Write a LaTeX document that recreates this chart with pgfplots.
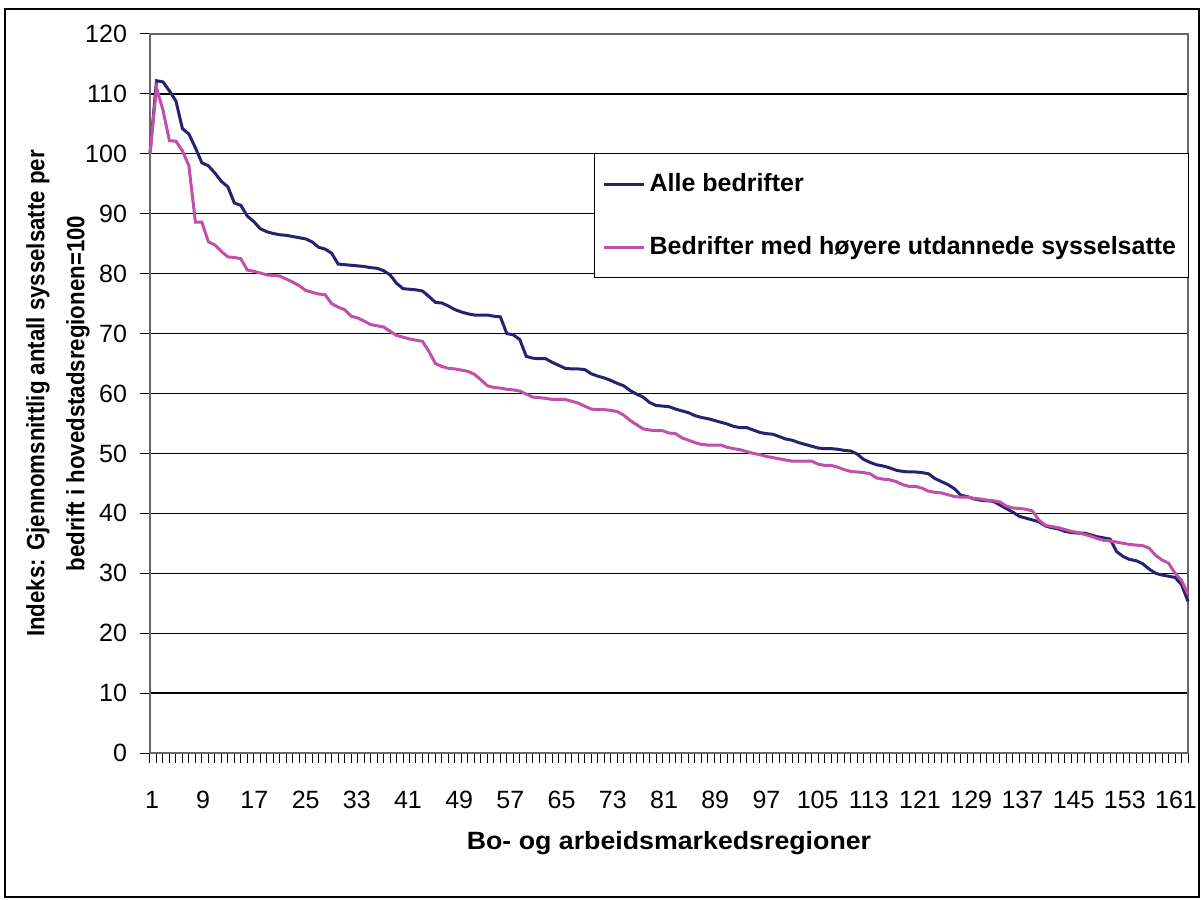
\documentclass[border=0pt]{standalone}
\usepackage{graphicx}
\usepackage{pgfplots}
\usepackage{pgfplotstable}
\pgfplotsset{compat=1.18}
\usepackage{fontspec}
\setmainfont{Liberation Sans}
\definecolor{navyline}{RGB}{35,35,112}
\definecolor{pinkline}{RGB}{192,80,168}

\pgfplotstableread{
x y
1 100
2 112.2
3 112.0
4 110.5
5 108.8
6 104.2
7 103.3
8 101.0
9 98.5
10 98.0
11 96.8
12 95.4
13 94.5
14 91.8
15 91.4
16 89.6
17 88.7
18 87.5
19 87.0
20 86.7
21 86.5
22 86.4
23 86.2
24 86.0
25 85.8
26 85.3
27 84.4
28 84.1
29 83.4
30 81.6
31 81.5
32 81.4
33 81.3
34 81.2
35 81.0
36 80.9
37 80.5
38 79.8
39 78.4
40 77.5
41 77.4
42 77.3
43 77.1
44 76.2
45 75.2
46 75.1
47 74.6
48 74.0
49 73.6
50 73.3
51 73.1
52 73.1
53 73.1
54 72.9
55 72.8
56 70.0
57 69.8
58 69.0
59 66.2
60 65.9
61 65.8
62 65.8
63 65.2
64 64.7
65 64.2
66 64.1
67 64.1
68 64.0
69 63.3
70 62.9
71 62.6
72 62.2
73 61.7
74 61.3
75 60.5
76 59.9
77 59.4
78 58.5
79 58.0
80 57.9
81 57.8
82 57.4
83 57.1
84 56.8
85 56.3
86 56.0
87 55.8
88 55.5
89 55.2
90 54.9
91 54.5
92 54.3
93 54.3
94 53.9
95 53.5
96 53.3
97 53.2
98 52.8
99 52.4
100 52.2
101 51.8
102 51.5
103 51.2
104 50.9
105 50.8
106 50.8
107 50.7
108 50.5
109 50.4
110 49.9
111 49.0
112 48.5
113 48.1
114 47.9
115 47.6
116 47.2
117 47.0
118 46.9
119 46.9
120 46.8
121 46.6
122 45.8
123 45.3
124 44.8
125 44.1
126 43.0
127 42.8
128 42.4
129 42.2
130 42.1
131 42.0
132 41.4
133 40.8
134 40.2
135 39.5
136 39.2
137 38.9
138 38.6
139 37.9
140 37.6
141 37.4
142 37.0
143 36.8
144 36.7
145 36.7
146 36.4
147 36.1
148 35.9
149 35.7
150 33.6
151 32.8
152 32.3
153 32.1
154 31.6
155 30.7
156 30.0
157 29.7
158 29.5
159 29.3
160 28.1
161 25.3
}\alle

\pgfplotstableread{
x y
1 100
2 111.0
3 107.3
4 102.2
5 102.1
6 100.5
7 98.0
8 88.6
9 88.6
10 85.3
11 84.8
12 83.7
13 82.8
14 82.7
15 82.5
16 80.6
17 80.4
18 80.1
19 79.8
20 79.7
21 79.6
22 79.1
23 78.6
24 78.0
25 77.2
26 76.9
27 76.6
28 76.5
29 75.0
30 74.4
31 74.0
32 72.9
33 72.6
34 72.1
35 71.5
36 71.3
37 71.1
38 70.4
39 69.7
40 69.4
41 69.1
42 68.9
43 68.7
44 67.0
45 65.0
46 64.5
47 64.2
48 64.1
49 63.9
50 63.7
51 63.2
52 62.3
53 61.3
54 61.0
55 60.9
56 60.7
57 60.6
58 60.4
59 59.9
60 59.4
61 59.3
62 59.2
63 59.0
64 59.0
65 59.0
66 58.7
67 58.4
68 57.9
69 57.4
70 57.3
71 57.3
72 57.2
73 57.0
74 56.4
75 55.5
76 54.8
77 54.1
78 53.9
79 53.8
80 53.8
81 53.4
82 53.3
83 52.6
84 52.2
85 51.8
86 51.5
87 51.4
88 51.4
89 51.4
90 51.0
91 50.8
92 50.6
93 50.3
94 50.0
95 49.8
96 49.5
97 49.3
98 49.1
99 48.9
100 48.7
101 48.7
102 48.7
103 48.7
104 48.2
105 48.0
106 48.0
107 47.7
108 47.3
109 47.0
110 46.9
111 46.8
112 46.6
113 45.9
114 45.7
115 45.6
116 45.3
117 44.8
118 44.5
119 44.5
120 44.2
121 43.7
122 43.5
123 43.4
124 43.1
125 42.8
126 42.7
127 42.7
128 42.5
129 42.4
130 42.2
131 42.1
132 41.9
133 41.2
134 40.9
135 40.8
136 40.7
137 40.4
138 38.9
139 38.0
140 37.8
141 37.6
142 37.3
143 37.0
144 36.8
145 36.5
146 36.2
147 35.8
148 35.5
149 35.4
150 35.2
151 35.0
152 34.8
153 34.7
154 34.6
155 34.2
156 33.0
157 32.2
158 31.7
159 30.0
160 28.8
161 26.5
}\hoy

\begin{document}
\begin{tikzpicture}
\useasboundingbox (-75pt,-73pt) rectangle (526.5pt,376.5pt);
\fill[white] (-75pt,-73pt) rectangle (526.5pt,376.5pt);
\draw[black, line width=0.8pt] (-72.5pt,-72pt) rectangle (524.5pt,372pt);
\begin{axis}[
  at={(0pt,0pt)}, anchor=south west,
  scale only axis,
  width=519pt, height=359.5pt,
  xmin=1, xmax=161, ymin=0, ymax=120,
  ytick={0,10,...,120},
  xtick={1,9,...,161},
  xticklabels={{\hspace*{2pt}1},{\hspace*{1.3pt}9},{\hspace*{0.6pt}17},25,{\hspace*{-0.8pt}33},{\hspace*{-1.5pt}41},{\hspace*{-2.2pt}49},{\hspace*{-2.9pt}57},{\hspace*{-3.6pt}65},{\hspace*{-4.3pt}73},{\hspace*{-5pt}81},{\hspace*{-5.7pt}89},{\hspace*{-6.4pt}97},{\hspace*{-7.1pt}105},{\hspace*{-7.8pt}113},{\hspace*{-8.5pt}121},{\hspace*{-9.2pt}129},{\hspace*{-9.9pt}137},{\hspace*{-10.6pt}145},{\hspace*{-11.3pt}153},{\hspace*{-12pt}161}},
  minor xtick={1,...,161},
  tick pos=left,
  tick align=outside,
  major tick length=5pt,
  minor tick length=5pt,
  every tick/.style={black, line width=0.5pt},
  ymajorgrids,
  major grid style={black, line width=0.6pt},
  axis line style={black!60, line width=0.9pt},
  /pgf/number format/assume math mode=true,
  ticklabel style={font=\fontsize{12.5}{15}\selectfont},
  xticklabel style={yshift=-10.5pt},
  yticklabel style={xshift=-3pt},
  xlabel={\scalebox{1.07}[1]{Bo- og arbeidsmarkedsregioner}},
  ylabel={\scalebox{0.89}[1]{Indeks: Gjennomsnittlig antall sysselsatte per}\\\scalebox{0.89}[1]{bedrift i hovedstadsregionen=100}},
  xlabel style={font=\bfseries\fontsize{12.5}{15}\selectfont, at={([yshift=-45pt]axis description cs:0.5,0)}, anchor=center},
  ylabel style={font=\bfseries\fontsize{12.5}{20}\selectfont, align=center, at={([xshift=-46pt]axis description cs:0,0.5)}, anchor=center},
  legend style={at={(0.4277,0.8345)}, anchor=north west, draw=black, line width=0.6pt, fill=white,
    font=\bfseries\fontsize{12.5}{15}\selectfont, inner xsep=4pt, inner ysep=8pt, row sep=17pt,
    cells={anchor=west}},
  legend image code/.code={\draw[#1, line width=1.5pt] (0pt,0pt) -- (20pt,0pt);},
  clip=false,
]
\addplot[navyline, line width=1.5pt] table[x=x,y=y] {\alle};
\addlegendentry{Alle bedrifter}
\addplot[pinkline, line width=1.5pt] table[x=x,y=y] {\hoy};
\addlegendentry{Bedrifter med høyere utdannede sysselsatte}
\end{axis}
\end{tikzpicture}
\end{document}
